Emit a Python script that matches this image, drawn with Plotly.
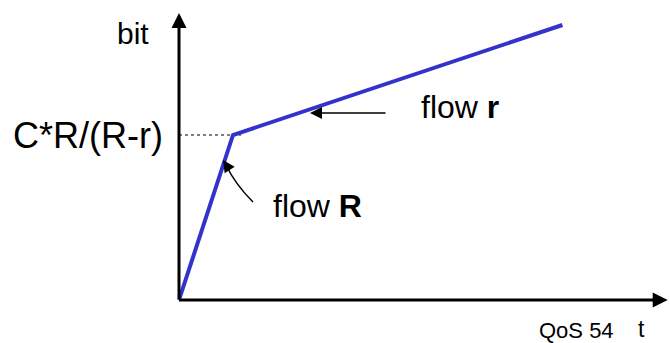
import plotly.graph_objects as go

# ---- data (chart units) ----
t_values = [0.0, 1.0, 7.1]        # time
bit_values = [0.0, 3.0, 5.0]      # cumulative bits
knee_label = "C*R/(R-r)"
dotted_t = [0.0, 1.15]
x_axis_end = 9.05
y_axis_end = 5.22

FONT = "Liberation Sans, Arial, sans-serif"
W, H = 670, 343
x_range = [-179 / 54, (W - 179) / 54]
y_range = [-43 / 55, 300 / 55]

fig = go.Figure()

# dotted guide at knee level
fig.add_trace(go.Scatter(x=dotted_t, y=[bit_values[1]] * 2, mode="lines",
                         line=dict(color="black", width=1, dash="dot"),
                         hoverinfo="skip", showlegend=False))
# flow curve
fig.add_trace(go.Scatter(x=t_values, y=bit_values, mode="lines",
                         line=dict(color="#3333CC", width=4),
                         hoverinfo="skip", showlegend=False))

ann = []
# axes with arrows
ann.append(dict(x=0, y=y_axis_end, ax=0, ay=0, xref="x", yref="y", axref="x", ayref="y",
                text="", showarrow=True, arrowhead=2, arrowsize=1, arrowwidth=3,
                arrowcolor="black", standoff=0))
ann.append(dict(x=x_axis_end, y=0, ax=-0.03, ay=0, xref="x", yref="y", axref="x", ayref="y",
                text="", showarrow=True, arrowhead=2, arrowsize=1, arrowwidth=3,
                arrowcolor="black", standoff=0))

def px_x(p):
    return p / W

def px_y(p):
    return 1 - p / H

# labels
ann.append(dict(x=px_x(151), y=px_y(33), xref="paper", yref="paper", text="bit",
                showarrow=False, xanchor="right", yanchor="middle",
                font=dict(family=FONT, size=30, color="black")))
ann.append(dict(x=px_x(165), y=bit_values[1], xref="paper", yref="y", text=knee_label,
                showarrow=False, xanchor="right", yanchor="middle",
                font=dict(family=FONT, size=36, color="black")))
ann.append(dict(x=px_x(419), y=px_y(107), xref="paper", yref="paper", text="flow <b>r</b>",
                showarrow=False, xanchor="left", yanchor="middle",
                font=dict(family=FONT, size=32, color="black")))
ann.append(dict(x=px_x(271), y=px_y(206), xref="paper", yref="paper", text="flow <b>R</b>",
                showarrow=False, xanchor="left", yanchor="middle",
                font=dict(family=FONT, size=32, color="black")))
ann.append(dict(x=px_x(537), y=px_y(330), xref="paper", yref="paper", text="QoS 54",
                showarrow=False, xanchor="left", yanchor="middle",
                font=dict(family=FONT, size=22, color="black")))
ann.append(dict(x=px_x(636), y=px_y(329), xref="paper", yref="paper", text="t",
                showarrow=False, xanchor="left", yanchor="middle",
                font=dict(family=FONT, size=23, color="black")))

# straight pointer arrow for flow r
ann.append(dict(x=px_x(310), y=px_y(113), ax=77, ay=0,
                xref="paper", yref="paper", axref="pixel", ayref="pixel",
                text="", showarrow=True, arrowhead=2, arrowsize=1.6, arrowwidth=1.5,
                arrowcolor="black", standoff=0))
# arrowhead for curved pointer (flow R)
ann.append(dict(x=px_x(223), y=px_y(160), ax=6, ay=9,
                xref="paper", yref="paper", axref="pixel", ayref="pixel",
                text="", showarrow=True, arrowhead=2, arrowsize=1.6, arrowwidth=1.5,
                arrowcolor="black", standoff=0))

shapes = [dict(type="path", xref="paper", yref="paper",
               path=f"M {px_x(253)},{px_y(202)} Q {px_x(235)},{px_y(184)} {px_x(226)},{px_y(165)}",
               line=dict(color="black", width=1.5))]

fig.update_layout(
    width=W, height=H,
    margin=dict(l=0, r=0, t=0, b=0),
    paper_bgcolor="white", plot_bgcolor="white",
    xaxis=dict(range=x_range, visible=False, fixedrange=True),
    yaxis=dict(range=y_range, visible=False, fixedrange=True),
    annotations=ann, shapes=shapes, showlegend=False,
)

fig.write_html("out.html", config={"displayModeBar": False},
               post_script="document.body.style.margin='0px';document.body.style.overflow='hidden';")
